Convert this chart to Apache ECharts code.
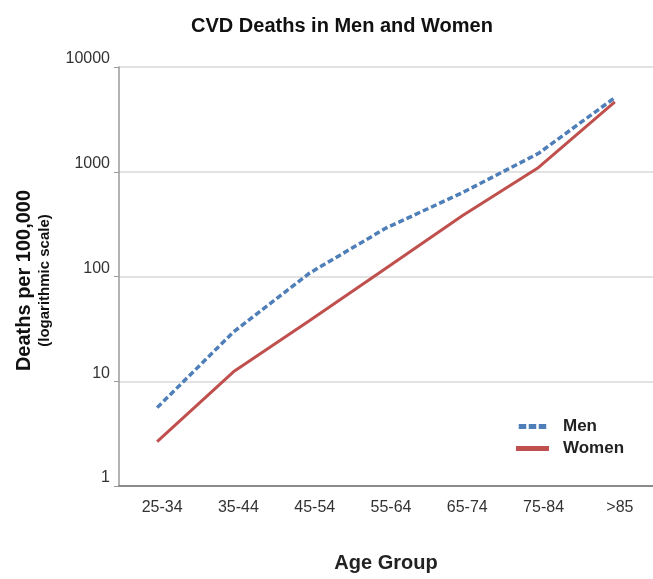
<!DOCTYPE html>
<html>
<head>
<meta charset="utf-8">
<script src="https://cdn.jsdelivr.net/npm/echarts@6/dist/echarts.min.js"></script>
<style>
html,body{margin:0;padding:0;background:#fff;}
#chart{width:653px;height:579px;}
</style>
</head>
<body>
<div id="chart"></div>
<script>
const categories = ['25-34', '35-44', '45-54', '55-64', '65-74', '75-84', '>85'];
const men = [5.6, 29.5, 108, 290, 630, 1500, 5100];
const women = [2.65, 12.3, 38, 120, 380, 1100, 4650];
const seriesNames = ['Men', 'Women'];
const yTicks = [1, 10, 100, 1000, 10000];

const chart = echarts.init(document.getElementById('chart'));
chart.setOption({
  backgroundColor: '#ffffff',
  animation: false,
  textStyle: { fontFamily: 'Liberation Sans, Arial, sans-serif' },
  title: {
    text: 'CVD Deaths in Men and Women',
    left: 337, top: 11, textAlign: 'center',
    textStyle: { fontSize: 20, fontWeight: 'bold', color: '#111' }
  },
  legend: {
    orient: 'vertical',
    left: 511, top: 413,
    itemWidth: 33, itemHeight: 5, itemGap: 5,
    textStyle: { fontSize: 17, fontWeight: 'bold', color: '#222', padding: [0, 0, 0, 9] },
    data: [
      { name: 'Men', icon: 'path://M0,0h9v6h-9zM12,0h9v6h-9zM24,0h9v6h-9z', itemStyle: { color: '#4f7fb8' } },
      { name: 'Women', icon: 'rect', itemStyle: { color: '#c0504d' } }
    ]
  },
  grid: { left: 119, top: 67, bottom: 93, right: -8 },
  xAxis: {
    type: 'category',
    data: categories,
    boundaryGap: true,
    name: 'Age Group',
    nameLocation: 'middle',
    nameGap: 67,
    nameTextStyle: { fontSize: 20, fontWeight: 'bold', color: '#222' },
    axisLine: { lineStyle: { color: '#8a8a8a', width: 2 } },
    axisTick: { show: false },
    axisLabel: { fontSize: 16, color: '#333', margin: 14, padding: [0, 0, 0, 10] },
    splitLine: { show: false }
  },
  yAxis: {
    type: 'log',
    logBase: 10,
    min: yTicks[0], max: yTicks[yTicks.length - 1],
    name: '{a|Deaths per 100,000}\n{b|(logarithmic scale)}',
    nameLocation: 'middle',
    nameRotate: 90,
    nameGap: 66,
    nameTextStyle: {
      padding: [0, 8, 0, 0],
      rich: {
        a: { fontSize: 20, fontWeight: 'bold', color: '#111', lineHeight: 26 },
        b: { fontSize: 15, fontWeight: 'bold', color: '#111', lineHeight: 16 }
      }
    },
    axisLine: { show: true, lineStyle: { color: '#9a9a9a', width: 1.5 } },
    axisTick: { show: true, length: 5, lineStyle: { color: '#9a9a9a' } },
    axisLabel: {
      fontSize: 16, color: '#333', margin: 9, verticalAlign: 'bottom',
      formatter: function (v) { return String(Math.round(v)); }
    },
    splitLine: { show: true, lineStyle: { color: '#d9d9d9', width: 1.5 } }
  },
  series: [
    {
      name: seriesNames[0], type: 'line', data: men,
      symbol: 'none',
      lineStyle: { color: '#4f7fb8', width: 3.5, type: [6, 3] },
      itemStyle: { color: '#4f7fb8' }
    },
    {
      name: seriesNames[1], type: 'line', data: women,
      symbol: 'none',
      lineStyle: { color: '#c0504d', width: 3 },
      itemStyle: { color: '#c0504d' }
    }
  ]
});
</script>
</body>
</html>
